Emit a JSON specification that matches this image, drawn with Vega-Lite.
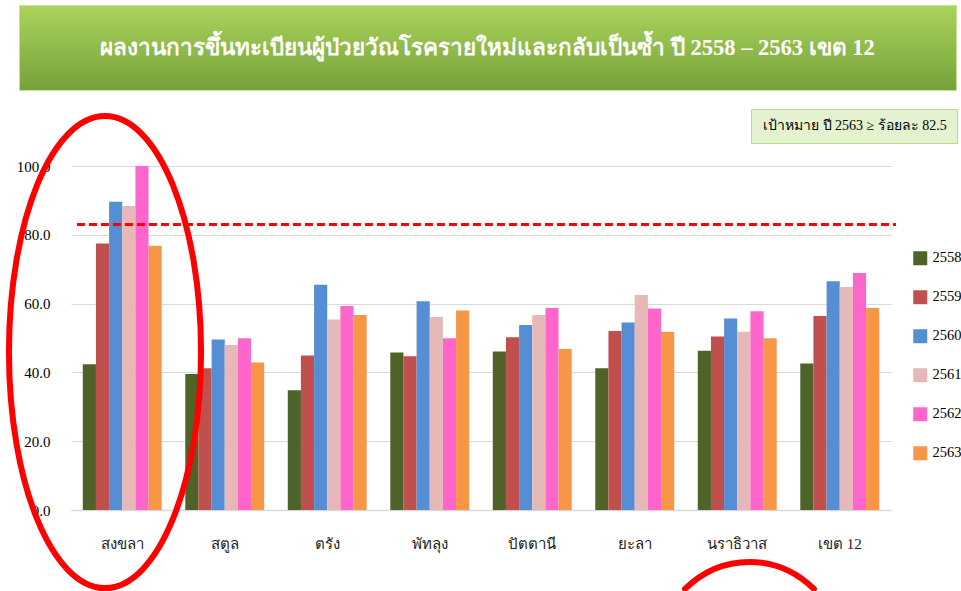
{
  "$schema": "https://vega.github.io/schema/vega-lite/v6.json",
  "padding": {"left": 5, "top": 4, "right": 0, "bottom": 0},
  "background": "white",
  "config": {
    "view": {"stroke": null},
    "font": "Liberation Serif"
  },
  "spacing": 22,
  "vconcat": [
    {
      "width": 937,
      "height": 85,
      "view": {
        "fill": {"gradient": "linear", "x1": 0, "y1": 0, "x2": 0, "y2": 1, "stops": [{"offset": 0, "color": "#aad35c"}, {"offset": 1, "color": "#76a13a"}]},
        "stroke": "#c8e294",
        "strokeWidth": 1
      },
      "data": {"values": [{"t": "ผลงานการขึ้นทะเบียนผู้ป่วยวัณโรครายใหม่และกลับเป็นซ้ำ ปี 2558 – 2563 เขต 12"}]},
      "mark": {"type": "text", "color": "white", "fontSize": 22.5, "fontWeight": "bold", "font": "Liberation Serif"},
      "encoding": {"text": {"field": "t"}}
    },
    {
      "width": 872,
      "height": 344,
      "data": {"values": [
        {"province": "สงขลา", "year": "2558", "value": 42.4},
        {"province": "สงขลา", "year": "2559", "value": 77.5},
        {"province": "สงขลา", "year": "2560", "value": 89.6},
        {"province": "สงขลา", "year": "2561", "value": 88.4},
        {"province": "สงขลา", "year": "2562", "value": 100.0},
        {"province": "สงขลา", "year": "2563", "value": 76.8},
        {"province": "สตูล", "year": "2558", "value": 39.5},
        {"province": "สตูล", "year": "2559", "value": 41.2},
        {"province": "สตูล", "year": "2560", "value": 49.6},
        {"province": "สตูล", "year": "2561", "value": 48.0},
        {"province": "สตูล", "year": "2562", "value": 49.9},
        {"province": "สตูล", "year": "2563", "value": 42.9},
        {"province": "ตรัง", "year": "2558", "value": 34.8},
        {"province": "ตรัง", "year": "2559", "value": 44.9},
        {"province": "ตรัง", "year": "2560", "value": 65.5},
        {"province": "ตรัง", "year": "2561", "value": 55.4},
        {"province": "ตรัง", "year": "2562", "value": 59.3},
        {"province": "ตรัง", "year": "2563", "value": 56.7},
        {"province": "พัทลุง", "year": "2558", "value": 45.8},
        {"province": "พัทลุง", "year": "2559", "value": 44.7},
        {"province": "พัทลุง", "year": "2560", "value": 60.7},
        {"province": "พัทลุง", "year": "2561", "value": 56.1},
        {"province": "พัทลุง", "year": "2562", "value": 49.9},
        {"province": "พัทลุง", "year": "2563", "value": 58.0},
        {"province": "ปัตตานี", "year": "2558", "value": 46.1},
        {"province": "ปัตตานี", "year": "2559", "value": 50.2},
        {"province": "ปัตตานี", "year": "2560", "value": 53.8},
        {"province": "ปัตตานี", "year": "2561", "value": 56.7},
        {"province": "ปัตตานี", "year": "2562", "value": 58.7},
        {"province": "ปัตตานี", "year": "2563", "value": 46.8},
        {"province": "ยะลา", "year": "2558", "value": 41.2},
        {"province": "ยะลา", "year": "2559", "value": 52.0},
        {"province": "ยะลา", "year": "2560", "value": 54.5},
        {"province": "ยะลา", "year": "2561", "value": 62.5},
        {"province": "ยะลา", "year": "2562", "value": 58.6},
        {"province": "ยะลา", "year": "2563", "value": 51.8},
        {"province": "นราธิวาส", "year": "2558", "value": 46.3},
        {"province": "นราธิวาส", "year": "2559", "value": 50.4},
        {"province": "นราธิวาส", "year": "2560", "value": 55.7},
        {"province": "นราธิวาส", "year": "2561", "value": 51.8},
        {"province": "นราธิวาส", "year": "2562", "value": 57.8},
        {"province": "นราธิวาส", "year": "2563", "value": 49.9},
        {"province": "เขต 12", "year": "2558", "value": 42.6},
        {"province": "เขต 12", "year": "2559", "value": 56.4},
        {"province": "เขต 12", "year": "2560", "value": 66.5},
        {"province": "เขต 12", "year": "2561", "value": 64.8},
        {"province": "เขต 12", "year": "2562", "value": 68.9},
        {"province": "เขต 12", "year": "2563", "value": 58.7}
      ]},
      "layer": [
        {
          "mark": {"type": "bar"},
          "encoding": {
            "x": {
              "field": "province", "type": "nominal",
              "sort": ["สงขลา", "สตูล", "ตรัง", "พัทลุง", "ปัตตานี", "ยะลา", "นราธิวาส", "เขต 12"],
              "scale": {"range": [52, 872], "paddingInner": 0.23, "paddingOuter": 0.115},
              "axis": {"title": null, "labelAngle": 0, "labelFontSize": 15, "labelColor": "#222222", "labelPadding": 26, "ticks": false, "domainColor": "#d9d9d9", "domainWidth": 1.5}
            },
            "xOffset": {"field": "year", "type": "nominal", "scale": {"paddingInner": 0, "paddingOuter": 0}},
            "y": {
              "field": "value", "type": "quantitative",
              "scale": {"domain": [0, 100], "nice": false},
              "axis": {"title": null, "offset": -52, "values": [0, 20, 40, 60, 80, 100], "format": ".1f", "labelFont": "Liberation Serif", "labelFontSize": 15, "labelColor": "black", "labelPadding": 21, "ticks": false, "domain": false, "gridColor": "#d9d9d9", "gridWidth": 1.2}
            },
            "color": {
              "field": "year", "type": "nominal",
              "scale": {"domain": ["2558", "2559", "2560", "2561", "2562", "2563"], "range": ["#4f6228", "#c0504d", "#558ed5", "#e6b9b8", "#ff66cc", "#f79646"]},
              "legend": {"title": null, "orient": "none", "legendX": 894, "legendY": 246, "symbolType": "square", "symbolSize": 196, "symbolStrokeWidth": 0, "symbolOpacity": 1, "labelFont": "Liberation Serif", "labelFontSize": 14.5, "labelColor": "black", "labelOffset": 5, "rowPadding": 23, "padding": 0}
            }
          }
        },
        {
          "data": {"values": [{"target": 83, "label": "เป้าหมาย ปี 2563 ≥ ร้อยละ 82.5"}]},
          "mark": {"type": "rule", "color": "#ff0000", "strokeWidth": 3},
          "encoding": {
            "x": {"datum": "สงขลา", "bandPosition": -0.074},
            "x2": {"datum": "เขต 12", "bandPosition": 1.213},
            "y": {"field": "target", "type": "quantitative"},
            "strokeDash": {
              "field": "label", "type": "nominal",
              "scale": {"range": [[8, 4]]},
              "legend": {"title": null, "orient": "none", "legendX": 732, "legendY": 104, "fillColor": "#e5f2cf", "strokeColor": "#b8d98a", "padding": 10, "symbolSize": 0.01, "symbolOpacity": 0, "symbolStrokeWidth": 0, "labelOffset": -12, "labelFont": "Liberation Serif", "labelFontSize": 14, "labelColor": "black", "labelLimit": 400}
            }
          }
        },
        {
          "data": {"values": [{}]},
          "mark": {"type": "point", "shape": "M-0.0731,-1 A0.407,1 0 0,1 0.3339,0 A0.407,1 0 0,1 -0.0731,1 A0.407,1 0 0,1 -0.4801,0 A0.407,1 0 0,1 -0.0731,-1 Z", "size": 222784, "filled": false, "stroke": "#ff0000", "strokeWidth": 6, "strokeJoin": "round", "opacity": 1},
          "encoding": {"x": {"datum": "สงขลา"}, "y": {"datum": 45.9}}
        },
        {
          "data": {"values": [{}]},
          "mark": {"type": "point", "shape": "M-0.488,-0.748 A0.907,1 0 0,1 0.716,-0.748", "size": 45796, "filled": false, "stroke": "#ff0000", "strokeWidth": 6, "strokeJoin": "round", "strokeCap": "round", "opacity": 1},
          "encoding": {"x": {"datum": "นราธิวาส"}, "y": {"datum": -46.2}}
        }
      ]
    }
  ]
}
